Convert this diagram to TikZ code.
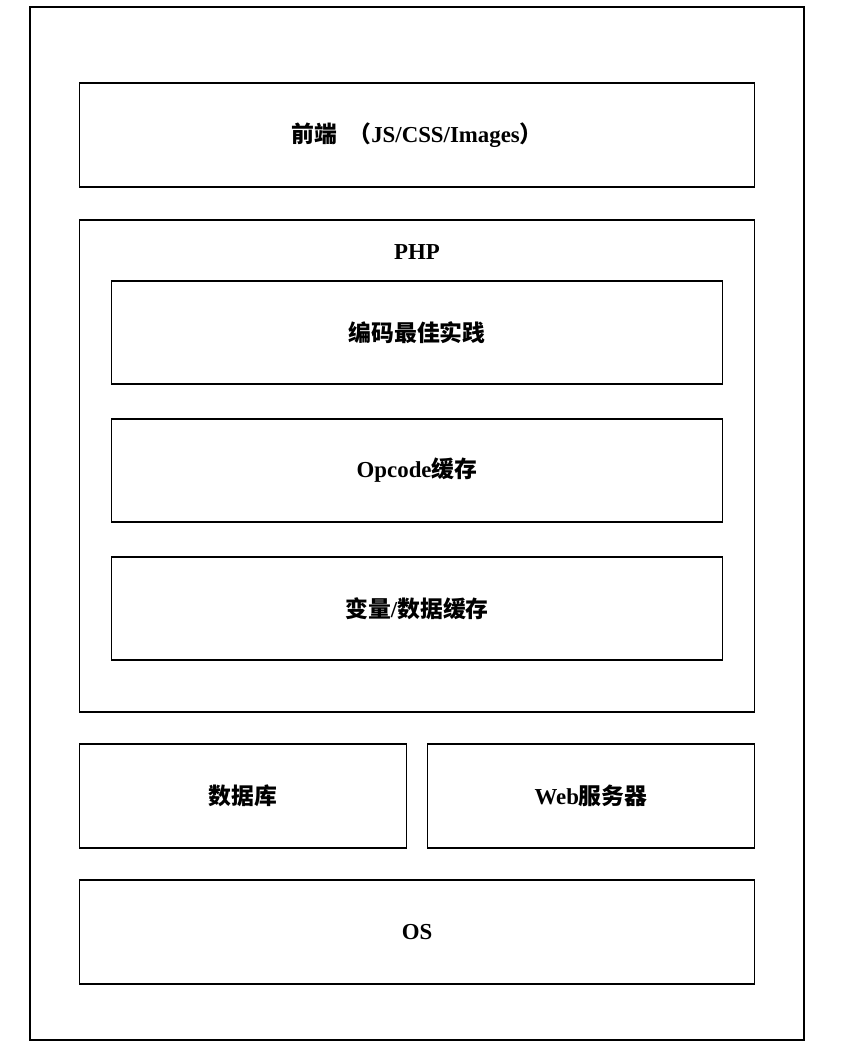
\documentclass[tikz,border=0pt]{standalone}
\usepackage{fontspec}
\setmainfont{Liberation Serif}
\newfontfamily\cjk{Noto Sans CJK SC}
\usepackage{tikz}
\usetikzlibrary{positioning}

\begin{document}
\begin{tikzpicture}[
    % Layer box styles
    layer/.style={draw, line width=1pt, minimum height=2.08cm, inner sep=0pt, outer sep=0pt,
                  font=\fontsize{13}{15}\selectfont\bfseries},
    widebox/.style={layer, minimum width=13.5cm},
    innerbox/.style={layer, minimum width=12.22cm, minimum height=2.06cm},
    halfbox/.style={layer, minimum width=6.54cm},
    frame/.style={draw, line width=1pt}
]
\useasboundingbox (0,0) rectangle (17.12,21.04);

% Outer frame
\draw[frame] (0.6,0.24) rectangle (16.08,20.9);

% Front end
\node[widebox, anchor=north west] (front) at (1.59,19.38) {{\cjk\bfseries 前端}\hspace{0.5em}{\cjk\bfseries （}JS/CSS/Images{\cjk\bfseries ）}};

% PHP container
\node[widebox, minimum height=9.84cm, below=0.66cm of front, anchor=north] (php) {};
\node[font=\fontsize{13}{15}\selectfont\bfseries, anchor=north] (php_label) at ([yshift=-0.36cm]php.north) {PHP};

% Inner PHP layers
\node[innerbox, anchor=north] (coding) at ([yshift=-1.22cm]php.north) {\cjk\bfseries 编码最佳实践};
\node[innerbox, below=0.7cm of coding] (opcode) {Opcode{\cjk\bfseries 缓存}};
\node[innerbox, below=0.7cm of opcode] (datacache) {{\cjk\bfseries 变量}/{\cjk\bfseries 数据缓存}};

% Database and web server
\node[halfbox, below=0.64cm of php.south west, anchor=north west] (db) {\cjk\bfseries 数据库};
\node[halfbox, below=0.64cm of php.south east, anchor=north east] (web) {Web{\cjk\bfseries 服务器}};

% Operating system
\node[widebox, anchor=north west] (os) at ([yshift=-0.64cm]db.south west) {OS};

\end{tikzpicture}
\end{document}
